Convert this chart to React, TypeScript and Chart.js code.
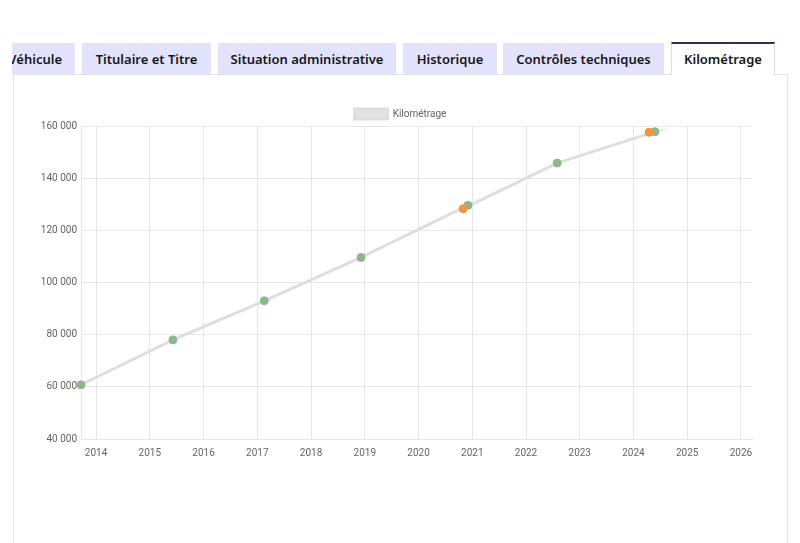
import React, { useEffect, useRef } from "react";
import { Chart, registerables } from "chart.js";

Chart.register(...registerables);

// ---- data ----
const tabLabels = ["Véhicule", "Titulaire et Titre", "Situation administrative", "Historique", "Contrôles techniques", "Kilométrage"];
const seriesLabel = "Kilométrage";
const readingYears = [2013.72, 2015.43, 2017.13, 2018.93, 2020.92, 2020.83, 2022.58, 2024.40, 2024.29];
const readingKm = [60800, 78000, 93000, 109600, 129600, 128300, 145800, 157800, 157600];
const readingSource = ["ct", "ct", "ct", "ct", "ct", "autre", "ct", "ct", "autre"];
const yTicks = [40000, 60000, 80000, 100000, 120000, 140000, 160000];
const xMin = 2013.72;
const xMax = 2026.205;

const GREEN = "#8fb68b";
const ORANGE = "#ef963c";

const fmt = (v: number) => String(v).replace(/\B(?=(\d{3})+(?!\d))/g, " ");

const tabGeom = [
  { left: -12, width: 87, align: "right" as const },
  { left: 82, width: 129 },
  { left: 218, width: 178 },
  { left: 403, width: 94 },
  { left: 503, width: 161 },
  { left: 671, width: 104 },
];

const legendShift = {
  id: "legendShift",
  afterLayout(chart: any) {
    const l = chart.legend;
    if (l) {
      l.top += 3;
      l.bottom += 3;
    }
  },
};

function ChartCanvas() {
  const ref = useRef<HTMLCanvasElement | null>(null);
  useEffect(() => {
    if (!ref.current) return;
    Chart.defaults.font.family = "Roboto";
    Chart.defaults.color = "#666";
    const chart = new Chart(ref.current, {
      type: "line",
      data: {
        datasets: [
          {
            label: seriesLabel,
            data: readingYears.map((x, i) => ({ x, y: readingKm[i] })),
            borderColor: "#dedede",
            backgroundColor: "#e3e3e3",
            borderWidth: 3,
            pointRadius: 4,
            pointBorderWidth: 1,
            pointBackgroundColor: readingSource.map((s) => (s === "ct" ? GREEN : ORANGE)),
            pointBorderColor: readingSource.map((s) => (s === "ct" ? GREEN : ORANGE)),
            tension: 0,
            clip: false as any,
          },
        ],
      },
      plugins: [legendShift],
      options: {
        animation: false,
        responsive: false,
        layout: { padding: { left: 0, right: 0, top: 0, bottom: 17 } },
        plugins: {
          legend: {
            display: true,
            labels: { boxWidth: 33, boxHeight: 10, padding: 10, font: { size: 10 }, color: "#666" },
          },
          tooltip: { enabled: false },
        },
        scales: {
          x: {
            type: "linear",
            min: xMin,
            max: xMax,
            afterFit: (s: any) => {
              s.height = 20;
            },
            ticks: {
              stepSize: 1,
              includeBounds: false,
              padding: 8,
              font: { size: 10 },
              color: "#666",
              callback: (v: any) => String(v),
            },
            grid: { color: "#e6e6e6", drawTicks: false },
            border: { color: "#e6e6e6" },
          },
          y: {
            min: 40000,
            max: 160000,
            afterFit: (s: any) => {
              s.width = 67;
            },
            afterBuildTicks: (s: any) => {
              s.ticks = yTicks.map((v) => ({ value: v }));
            },
            ticks: {
              padding: 4,
              font: { size: 10 },
              color: "#666",
              callback: (v: any) => fmt(Number(v)),
            },
            grid: { color: "#e6e6e6", drawTicks: false },
            border: { color: "#e6e6e6" },
          },
          spacer: {
            type: "linear",
            position: "right",
            display: true,
            afterFit: (s: any) => {
              s.width = 35;
            },
            ticks: { display: false },
            grid: { display: false, drawTicks: false },
            border: { display: false },
          },
        },
      },
    });
    return () => chart.destroy();
  }, []);
  return <canvas ref={ref} width={773} height={380} style={{ display: "block" }} />;
}

export default function App() {
  return (
    <div style={{ position: "absolute", left: 0, top: 0, width: 800, height: 543, overflow: "hidden", background: "#fff" }}>
      {/* panel */}
      <div
        style={{
          position: "absolute",
          left: 13,
          top: 74,
          width: 773,
          height: 520,
          border: "1px solid #e2e2e2",
          background: "#fff",
        }}
      />
      {/* tabs */}
      <div style={{ position: "absolute", left: 12, top: 42, width: 776, height: 34, overflow: "hidden" }}>
        {tabLabels.map((t, i) => {
          const g = tabGeom[i];
          const active = i === tabLabels.length - 1;
          return (
            <div
              key={t}
              style={{
                position: "absolute",
                left: g.left - 12,
                top: active ? 0 : 1,
                width: g.width,
                height: active ? 33 : 31,
                boxSizing: "border-box",
                background: active ? "#fff" : "#e3e3fd",
                borderTop: active ? "2px solid #2f2f5a" : "none",
                borderLeft: active ? "1px solid #dddddd" : "none",
                borderRight: active ? "1px solid #dddddd" : "none",
                display: "flex",
                alignItems: "center",
                justifyContent: g.align === "right" ? "flex-end" : "center",
                paddingRight: g.align === "right" ? 13 : 0,
                paddingBottom: active ? 1 : 0,
                fontFamily: "'Noto Sans', sans-serif",
                fontWeight: 600,
                fontSize: 13,
                color: "#161616",
                whiteSpace: "nowrap",
              }}
            >
              {t}
            </div>
          );
        })}
      </div>
      <div style={{ position: "absolute", left: 14, top: 96 }}>
        <ChartCanvas />
      </div>
    </div>
  );
}
